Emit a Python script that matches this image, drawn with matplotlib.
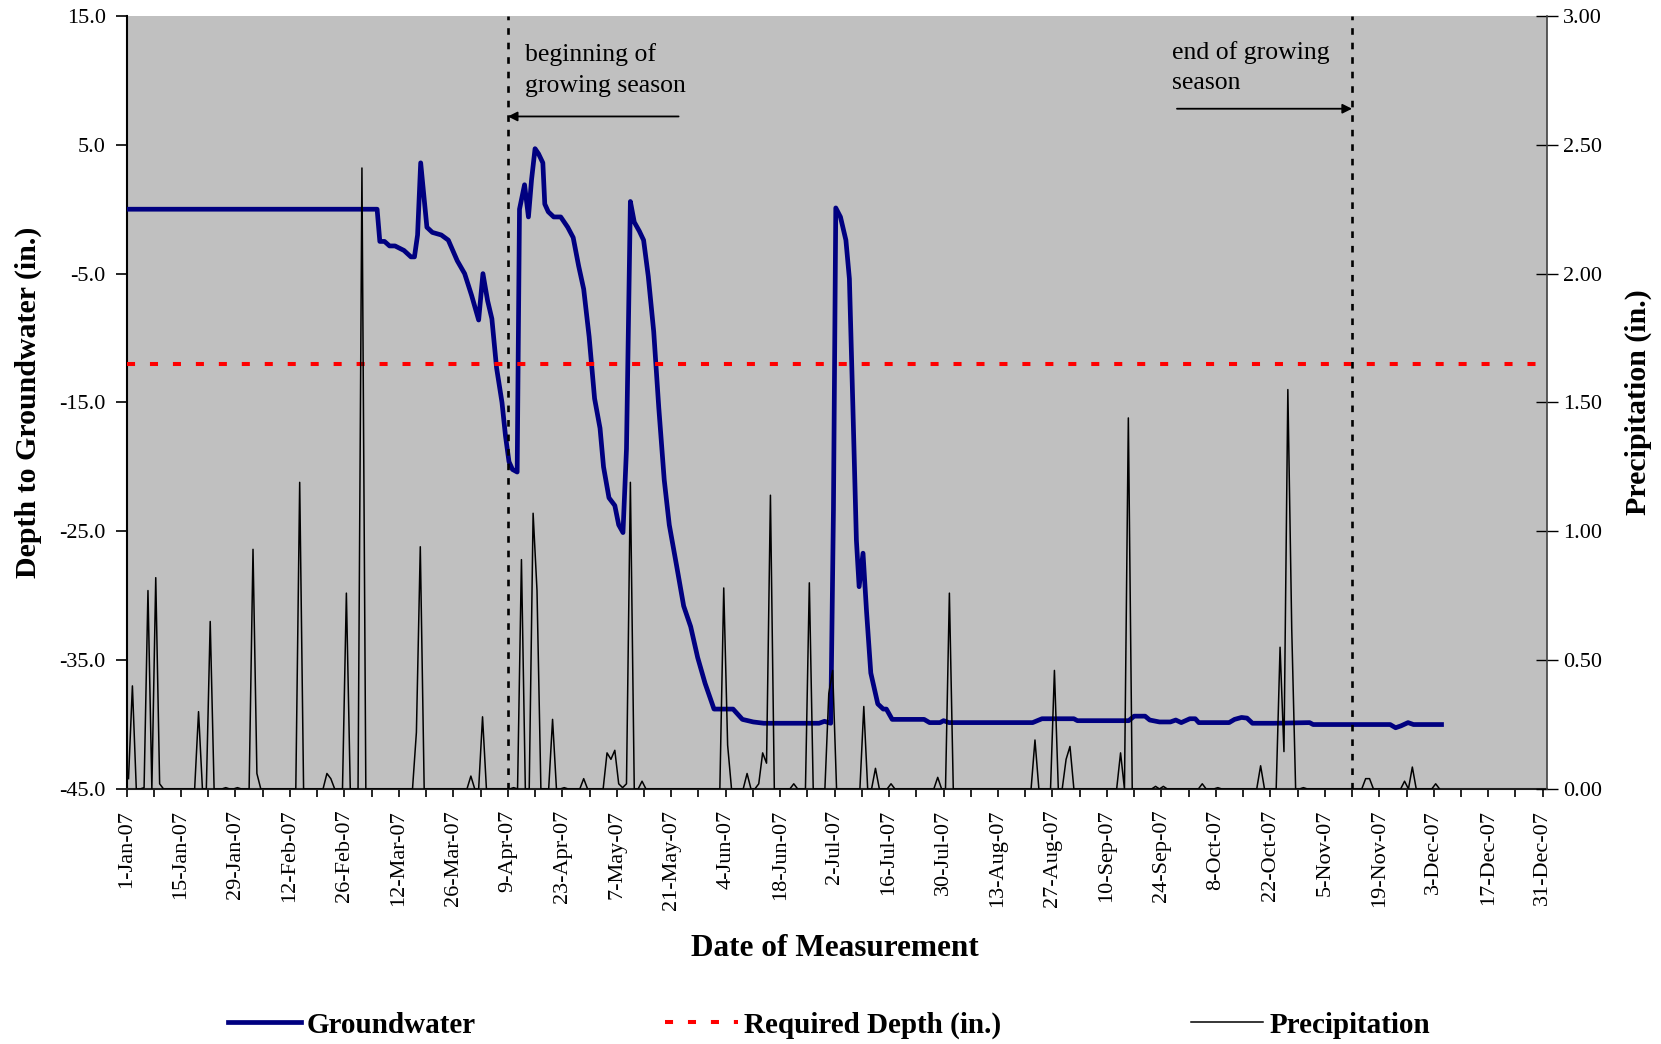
import datetime
import numpy as np
import matplotlib
matplotlib.use('Agg')
import matplotlib.pyplot as plt
import matplotlib.dates as mdates
from matplotlib.ticker import FixedLocator, FuncFormatter

plt.rcParams['font.family'] = ['Liberation Serif', 'DejaVu Serif']

start = datetime.datetime(2007, 1, 1)

# groundwater depth (in.): days after 1-Jan-07
gw_days = [0, 64.4, 65.1, 66.3, 67.6, 69.0, 71.3, 73.1, 74.0, 74.8, 75.6, 77.2, 78.6, 80.9,
	82.7, 85.0, 86.9, 88.7, 90.5, 91.6, 92.8, 93.9, 95.1, 96.5, 97.4, 98.3, 99.2, 100.4,
	101.0, 102.3, 103.3, 104.1, 105.0, 105.9, 107.0, 107.5, 108.4, 109.8, 111.6, 113.4,
	114.8, 116.2, 117.5, 118.9, 120.3, 121.7, 122.6, 124.0, 125.5, 126.5, 127.6, 128.5,
	129.5, 130.5, 131.8, 132.9, 134.1, 135.5, 136.8, 138.2, 139.5, 141.4, 143.2, 145.0,
	146.8, 148.7, 151.0, 155.9, 158.3, 161.1, 163.8, 178.0, 179.4, 181.0, 181.7, 182.3,
	183.5, 184.9, 185.8, 186.7, 187.6, 188.3, 189.3, 190.2, 191.3, 193.1, 194.5, 195.3,
	196.8, 205.0, 206.4, 209.1, 210.0, 211.4, 232.9, 235.3, 243.5, 244.4, 257.6, 259.0,
	261.8, 263.0, 265.5, 268.3, 269.7, 271.1, 273.3, 274.7, 275.6, 283.4, 284.8, 286.6,
	288.0, 289.4, 294.9, 304.1, 305.0, 324.8, 326.2, 327.6, 329.4, 330.8, 338.0]
gw_depth = [0.0, 0.0, -2.5, -2.5, -2.85, -2.85, -3.2, -3.7, -3.7, -2.0, 3.6, -1.4, -1.8, -2.0,
	-2.4, -4.0, -5.0, -6.7, -8.6, -5.0, -7.1, -8.5, -12.3, -15.0, -17.6, -19.6, -20.2, -20.4,
	0.0, 1.9, -0.6, 2.3, 4.7, 4.3, 3.6, 0.4, -0.2, -0.6, -0.6, -1.4,
	-2.2, -4.4, -6.2, -9.9, -14.7, -17.0, -20.0, -22.4, -23.0, -24.5, -25.1, -18.6,
	0.6, -1.0, -1.7, -2.4, -5.2, -9.5, -15.4, -21.0, -24.5, -27.7, -30.8, -32.4,
	-34.8, -36.8, -38.8, -38.8, -39.6, -39.8, -39.9, -39.9, -39.75, -39.9, -23.3, 0.1,
	-0.6, -2.4, -5.4, -15.4, -25.7, -29.3, -26.7, -31.2, -36.0, -38.4, -38.8, -38.8,
	-39.6, -39.6, -39.85, -39.85, -39.7, -39.85, -39.85, -39.55, -39.55, -39.7, -39.7, -39.35,
	-39.35, -39.65, -39.8, -39.8, -39.65, -39.85, -39.55, -39.55, -39.85, -39.85, -39.6, -39.45,
	-39.5, -39.9, -39.9, -39.85, -40.0, -40.0, -40.25, -40.1, -39.85, -40.0, -40.0]

# daily precipitation (in.), days with rain; all other days are 0
rain_days = [0, 1, 4, 5, 7, 8, 18, 21, 25, 28, 32, 33, 44, 51, 52, 56, 60, 74, 75, 88, 91, 99,
	101, 104, 105, 109, 112, 117, 123, 124, 125, 126, 127, 128, 129, 132, 153, 154, 159,
	162, 163, 164, 165, 171, 175, 180, 181, 189, 192, 196, 208, 211, 233, 238, 241, 242,
	255, 257, 264, 266, 276, 280, 291, 296, 297, 298, 299, 302, 318, 319, 328, 330, 336]
rain_amount = [0.04, 0.40, 0.005, 0.77, 0.82, 0.02, 0.30, 0.65, 0.005, 0.005, 0.93, 0.06, 1.19,
	0.06, 0.04, 0.76, 2.41, 0.22, 0.94, 0.05, 0.28, 0.005,
	0.89, 1.07, 0.77, 0.27, 0.005, 0.04, 0.14, 0.115, 0.15, 0.02, 0.005, 0.02, 1.19, 0.03,
	0.78, 0.17, 0.06, 0.02, 0.14, 0.10, 1.14, 0.02, 0.80, 0.37, 0.46, 0.32, 0.08, 0.02,
	0.045, 0.76, 0.19, 0.46, 0.115, 0.165, 0.14, 1.44, 0.01, 0.01, 0.02, 0.005, 0.09, 0.55,
	0.145, 1.55, 0.62, 0.005, 0.04, 0.04, 0.03, 0.085, 0.02]
n_rain_days = 338

required_depth = -12.0
season_start = datetime.datetime(2007, 4, 9)
season_end = datetime.datetime(2007, 11, 12)

t0 = mdates.date2num(start)
gw_x = t0 + np.array(gw_days)
rain = np.zeros(n_rain_days)
rain[rain_days] = rain_amount
# Excel date axis puts each day's point in the middle of the day
rain_x = t0 + np.arange(n_rain_days) + 0.5

fig = plt.figure(figsize=(16.61, 10.44), dpi=100)
ax = fig.add_axes([0.0762, 0.2443, 0.9311 - 0.0762, 0.9847 - 0.2443])
ax.set_facecolor('#C0C0C0')
ax2 = ax.twinx()

gw_line, = ax.plot(gw_x, gw_depth, color='#000080', lw=3.4, solid_joinstyle='round', zorder=3)
req_line = ax.axhline(required_depth, color='red', lw=2.9, dashes=(2.0, 3.7), zorder=4)
rain_line, = ax2.plot(rain_x, rain, color='black', lw=1.1)

for d in [season_start, season_end]:
	ax.axvline(mdates.date2num(d), color='black', lw=1.9, dashes=(2.5, 3.0), zorder=4)

ax.annotate('', xy=(mdates.date2num(season_start), 7.2), xytext=(t0 + 141.9, 7.2),
	arrowprops=dict(arrowstyle='-|>', color='black', lw=1.3, mutation_scale=14, shrinkA=0, shrinkB=0))
ax.annotate('', xy=(mdates.date2num(season_end), 7.8), xytext=(t0 + 270.0, 7.8),
	arrowprops=dict(arrowstyle='-|>', color='black', lw=1.3, mutation_scale=14, shrinkA=0, shrinkB=0))
ax.text(t0 + 102.5, 10.8, 'beginning of\ngrowing season', fontsize=18.5, ha='left', va='center', linespacing=1.5)
ax.text(t0 + 268.7, 11.0, 'end of growing\nseason', fontsize=18.5, ha='left', va='center', linespacing=1.5)

ax.set_xlim(t0, t0 + 365)
ax.set_ylim(-45, 15)
ax2.set_ylim(0, 3)

ax.xaxis.set_major_locator(FixedLocator(t0 + np.arange(0, 365, 14)))
ax.xaxis.set_minor_locator(FixedLocator(t0 + np.arange(7, 365, 14)))
ax.xaxis.set_major_formatter(FuncFormatter(
	lambda v, p: '%d-%s' % (mdates.num2date(v).day, mdates.num2date(v).strftime('%b-%y'))))
ax.tick_params(axis='x', which='both', direction='out', length=6, width=1.2, labelsize=16,
	labelrotation=90, pad=9)
ax.set_yticks(np.arange(-45, 16, 10))
ax.yaxis.set_major_formatter(FuncFormatter(lambda v, p: '%.1f' % v))
ax.tick_params(axis='y', direction='out', length=8, width=1.2, labelsize=16, pad=7)

ax2.set_yticks(np.arange(0, 3.01, 0.5))
ax2.yaxis.set_major_formatter(FuncFormatter(lambda v, p: '%.2f' % v))
ax2.tick_params(axis='y', direction='inout', length=16, width=1.0, labelsize=16, pad=4)

ax.spines['top'].set_visible(False)
ax.spines['right'].set_visible(False)
ax.spines['left'].set_linewidth(1.5)
ax.spines['bottom'].set_linewidth(1.5)
ax.spines['bottom'].set_color('#202020')
for s in ['top', 'left', 'bottom']:
	ax2.spines[s].set_visible(False)
ax2.spines['right'].set_color('#404040')
ax2.spines['right'].set_linewidth(1.2)

bold = dict(fontsize=21.5, fontweight='bold')
ax.set_ylabel('Depth to Groundwater (in.)', **bold)
ax2.set_ylabel('Precipitation (in.)', labelpad=16, **bold)
fig.text(0.5025, 1 - 949 / 1044.0, 'Date of Measurement', ha='center', va='center',
	fontsize=22.5, fontweight='bold')
ax.yaxis.set_label_coords(-0.0595, 0.5)

fig.legend([gw_line, req_line, rain_line], ['Groundwater', 'Required Depth (in.)', 'Precipitation'],
	loc='center', bbox_to_anchor=(0.499, 0.018), ncol=3, frameon=False,
	prop=dict(family='Liberation Serif', weight='bold', size=21),
	handlelength=2.5, handletextpad=0.2, columnspacing=6.5)

fig.savefig('out.png', dpi=100)
